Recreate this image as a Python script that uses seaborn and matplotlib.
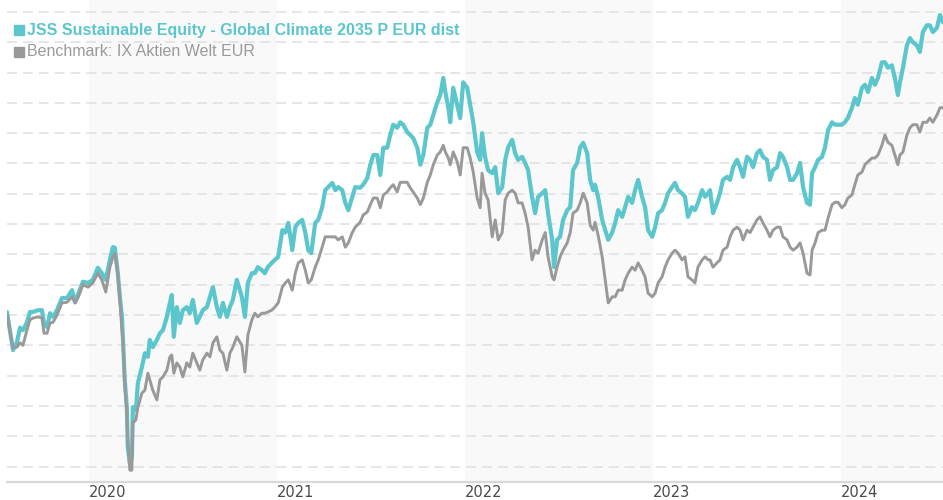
import pandas as pd
import numpy as np
import matplotlib
matplotlib.use("Agg")
import matplotlib.pyplot as plt
from matplotlib.lines import Line2D
import seaborn as sns

# time in decimal years
t_years = [
    2019.564, 2019.596, 2019.617, 2019.633, 2019.649, 2019.670, 2019.686, 2019.702, 2019.729, 2019.750,
    2019.761, 2019.777, 2019.793, 2019.809, 2019.830, 2019.856, 2019.883, 2019.910, 2019.926, 2019.941,
    2019.968, 2019.995, 2020.021, 2020.048, 2020.069, 2020.090, 2020.112, 2020.128, 2020.138, 2020.154,
    2020.165, 2020.176, 2020.181, 2020.191, 2020.202, 2020.207, 2020.218, 2020.229, 2020.234, 2020.250,
    2020.261, 2020.282, 2020.298, 2020.314, 2020.324, 2020.340, 2020.362, 2020.378, 2020.394, 2020.415,
    2020.431, 2020.441, 2020.452, 2020.468, 2020.484, 2020.500, 2020.521, 2020.537, 2020.553, 2020.574,
    2020.590, 2020.606, 2020.628, 2020.644, 2020.660, 2020.681, 2020.697, 2020.713, 2020.734, 2020.750,
    2020.766, 2020.787, 2020.814, 2020.830, 2020.846, 2020.867, 2020.883, 2020.899, 2020.920, 2020.936,
    2020.952, 2020.973, 2020.989, 2021.005, 2021.027, 2021.043, 2021.059, 2021.080, 2021.096, 2021.112,
    2021.133, 2021.149, 2021.165, 2021.181, 2021.202, 2021.218, 2021.239, 2021.255, 2021.271, 2021.293,
    2021.309, 2021.324, 2021.346, 2021.362, 2021.378, 2021.399, 2021.415, 2021.441, 2021.457, 2021.479,
    2021.495, 2021.511, 2021.532, 2021.548, 2021.564, 2021.585, 2021.601, 2021.617, 2021.638, 2021.654,
    2021.670, 2021.691, 2021.707, 2021.723, 2021.745, 2021.761, 2021.777, 2021.798, 2021.814, 2021.830,
    2021.851, 2021.867, 2021.883, 2021.894, 2021.910, 2021.920, 2021.936, 2021.957, 2021.973, 2021.989,
    2022.011, 2022.027, 2022.043, 2022.064, 2022.080, 2022.090, 2022.106, 2022.122, 2022.144, 2022.160,
    2022.176, 2022.197, 2022.213, 2022.229, 2022.250, 2022.266, 2022.282, 2022.303, 2022.319, 2022.335,
    2022.356, 2022.372, 2022.388, 2022.410, 2022.426, 2022.441, 2022.463, 2022.473, 2022.489, 2022.505,
    2022.521, 2022.543, 2022.559, 2022.574, 2022.596, 2022.612, 2022.628, 2022.649, 2022.665, 2022.681,
    2022.691, 2022.707, 2022.729, 2022.745, 2022.761, 2022.782, 2022.798, 2022.814, 2022.835, 2022.851,
    2022.867, 2022.888, 2022.904, 2022.920, 2022.941, 2022.957, 2022.973, 2022.995, 2023.011, 2023.027,
    2023.048, 2023.064, 2023.080, 2023.101, 2023.117, 2023.133, 2023.154, 2023.170, 2023.186, 2023.207,
    2023.223, 2023.239, 2023.261, 2023.277, 2023.293, 2023.303, 2023.319, 2023.340, 2023.356, 2023.372,
    2023.394, 2023.410, 2023.426, 2023.447, 2023.463, 2023.479, 2023.500, 2023.516, 2023.532, 2023.553,
    2023.569, 2023.585, 2023.606, 2023.622, 2023.638, 2023.660, 2023.676, 2023.691, 2023.713, 2023.729,
    2023.745, 2023.766, 2023.782, 2023.798, 2023.819, 2023.835, 2023.846, 2023.862, 2023.878, 2023.899,
    2023.915, 2023.931, 2023.952, 2023.968, 2023.984, 2024.005, 2024.021, 2024.037, 2024.059, 2024.074,
    2024.090, 2024.112, 2024.128, 2024.144, 2024.165, 2024.181, 2024.197, 2024.218, 2024.234, 2024.250,
    2024.271, 2024.287, 2024.303, 2024.314, 2024.330, 2024.351, 2024.367, 2024.383, 2024.404, 2024.420,
    2024.436, 2024.457, 2024.473, 2024.489, 2024.511, 2024.527, 2024.543,
]

fund = [
    100.5, 94.2, 95.5, 97.9, 97.5, 98.8, 100.5, 100.5, 100.8, 100.8,
    98.7, 98.0, 100.3, 99.7, 100.8, 102.8, 102.8, 104.1, 102.1, 103.3,
    105.5, 105.3, 105.8, 107.8, 106.9, 105.8, 109.1, 111.2, 111.1, 106.9,
    103.0, 99.7, 96.4, 89.3, 84.8, 78.2, 75.6, 76.6, 84.8, 84.3,
    88.8, 91.4, 93.7, 93.1, 95.9, 94.7, 95.9, 97.0, 97.5, 99.7,
    102.0, 103.3, 96.4, 101.3, 98.7, 100.8, 101.3, 100.3, 102.5, 98.7,
    99.7, 100.8, 101.3, 103.0, 104.6, 101.3, 99.7, 102.0, 99.7, 101.3,
    102.5, 105.8, 103.0, 99.7, 105.3, 106.9, 106.9, 107.9, 107.4, 106.9,
    107.9, 108.6, 109.1, 109.6, 114.0, 113.6, 115.2, 110.7, 114.5, 115.2,
    115.7, 113.6, 110.7, 110.2, 115.2, 115.7, 117.8, 120.6, 121.1, 121.8,
    120.6, 121.1, 120.6, 118.5, 117.3, 119.5, 121.1, 121.0, 121.5, 122.6,
    124.8, 126.4, 126.4, 123.1, 127.6, 127.6, 129.7, 131.4, 130.9, 131.8,
    131.4, 130.2, 129.7, 129.2, 127.6, 124.8, 126.4, 130.9, 131.4, 133.0,
    135.1, 136.3, 139.1, 136.8, 134.2, 131.8, 137.5, 134.7, 132.5, 138.4,
    137.5, 134.7, 131.8, 126.9, 125.6, 130.0, 126.1, 123.9, 123.4, 124.4,
    120.1, 121.1, 125.6, 127.7, 128.9, 126.7, 125.6, 126.1, 125.1, 123.9,
    119.5, 116.8, 119.5, 120.1, 120.6, 116.8, 112.4, 107.9, 112.4, 112.9,
    115.7, 117.3, 117.8, 123.9, 125.1, 127.7, 128.4, 126.7, 122.3, 120.6,
    121.5, 119.5, 115.7, 114.0, 112.4, 113.6, 115.2, 117.3, 116.2, 117.8,
    119.5, 118.5, 120.6, 122.3, 119.5, 117.8, 114.0, 112.9, 114.5, 116.8,
    117.3, 118.5, 120.1, 121.1, 121.8, 120.6, 120.1, 119.5, 116.2, 117.8,
    117.3, 118.5, 120.6, 119.5, 120.1, 120.6, 116.8, 118.5, 120.1, 122.3,
    122.8, 122.3, 124.4, 125.6, 124.4, 122.8, 126.1, 125.6, 124.4, 126.7,
    127.2, 126.1, 125.6, 122.3, 123.9, 124.4, 126.7, 126.1, 124.4, 122.3,
    122.3, 123.4, 125.1, 121.1, 118.5, 118.2, 123.4, 124.4, 125.6, 126.1,
    127.7, 130.5, 131.8, 131.4, 131.4, 131.4, 131.8, 132.5, 134.2, 135.8,
    134.7, 137.5, 138.0, 136.8, 139.1, 138.0, 139.1, 141.7, 141.7, 140.8,
    141.2, 139.1, 136.3, 138.4, 140.8, 144.5, 145.7, 145.0, 144.5, 143.4,
    146.7, 147.8, 147.8, 146.7, 147.4, 149.5, 148.3,
]

benchmark = [
    100.0, 94.6, 94.7, 95.4, 95.0, 97.5, 99.2, 99.5, 99.7, 99.5,
    97.0, 97.0, 98.7, 98.8, 100.0, 102.0, 102.1, 103.0, 102.0, 102.8,
    105.0, 104.6, 105.3, 106.9, 105.8, 103.8, 107.9, 109.6, 110.2, 106.9,
    102.5, 97.5, 95.9, 88.5, 84.0, 79.4, 74.4, 74.4, 82.2, 82.7,
    84.8, 87.1, 87.6, 90.4, 89.3, 87.6, 86.0, 89.3, 89.8, 90.9,
    93.1, 93.4, 90.4, 92.1, 91.4, 89.8, 92.1, 91.4, 93.7, 92.1,
    90.9, 92.6, 93.7, 93.1, 95.4, 96.4, 94.2, 93.7, 90.9, 93.7,
    94.7, 96.4, 95.0, 90.6, 96.7, 99.2, 100.3, 99.7, 100.3, 100.3,
    100.5, 100.8, 101.3, 102.0, 104.6, 105.3, 105.8, 104.1, 106.9, 108.6,
    109.1, 107.4, 105.3, 105.8, 107.9, 109.1, 111.2, 112.9, 112.9, 112.9,
    112.9, 112.4, 112.9, 111.2, 111.9, 113.6, 114.5, 115.3, 116.5, 117.0,
    118.2, 119.3, 119.3, 117.7, 119.8, 120.3, 121.0, 121.5, 120.3, 121.9,
    121.9, 121.9, 121.0, 120.3, 119.3, 118.2, 119.3, 121.9, 123.1, 124.8,
    126.4, 126.9, 128.0, 126.9, 125.9, 124.8, 126.9, 125.3, 123.1, 127.6,
    127.6, 125.9, 123.6, 119.3, 117.7, 123.4, 120.1, 119.0, 112.9, 115.7,
    112.4, 113.6, 119.0, 120.1, 120.6, 120.1, 118.5, 118.5, 116.8, 114.5,
    109.1, 110.7, 110.2, 112.4, 113.6, 109.6, 106.3, 105.8, 107.9, 109.6,
    110.7, 111.9, 113.6, 116.8, 117.3, 118.5, 120.1, 118.5, 114.8, 114.0,
    115.3, 113.2, 109.6, 105.8, 102.0, 103.0, 103.0, 104.1, 104.1, 105.8,
    106.9, 107.9, 107.4, 108.6, 107.4, 106.3, 103.6, 103.0, 103.6, 105.3,
    106.3, 107.9, 109.1, 110.2, 110.7, 110.2, 109.1, 109.6, 106.3, 105.8,
    105.3, 107.9, 109.1, 109.6, 109.1, 109.1, 107.9, 108.6, 109.1, 110.7,
    111.2, 112.9, 114.0, 114.5, 114.0, 112.4, 114.0, 113.6, 114.5, 115.7,
    116.2, 115.2, 114.0, 112.9, 114.0, 114.5, 114.5, 112.9, 112.4, 111.2,
    110.7, 111.2, 111.9, 110.2, 106.9, 106.6, 110.7, 111.9, 113.6, 114.0,
    114.0, 116.0, 118.2, 118.6, 118.6, 117.7, 118.2, 119.3, 119.8, 121.5,
    123.1, 123.6, 124.8, 125.3, 125.9, 125.9, 126.4, 128.0, 129.7, 128.5,
    128.0, 126.4, 124.8, 126.4, 126.9, 129.7, 130.9, 131.4, 131.4, 130.2,
    131.8, 131.8, 132.5, 131.8, 133.0, 134.2, 134.2,
]

series_labels = ["JSS Sustainable Equity - Global Climate 2035 P EUR dist",
                 "Benchmark: IX Aktien Welt EUR"]
year_ticks = [2020, 2021, 2022, 2023, 2024]


def to_date(y):
    yi = int(np.floor(y))
    return pd.Timestamp(f"{yi}-01-01") + pd.Timedelta(days=(y - yi) * 365.25)


dates = [to_date(y) for y in t_years]
df = pd.DataFrame({"date": dates, "fund": fund, "bench": benchmark})

sns.set_theme(style="white")
plt.rcParams["font.family"] = ["Liberation Sans", "DejaVu Sans"]

W, H = 943, 500
fig = plt.figure(figsize=(W / 100, H / 100), dpi=100)
ax = fig.add_axes([7 / W, 18 / H, 936 / W, 482 / H])

TEAL = "#5cc6cd"
GREY = "#999999"

x0, x1 = df["date"].iloc[0], df["date"].iloc[-1]

# alternating year bands
for yr in [2020, 2022, 2024]:
    a = pd.Timestamp(f"{yr}-01-01")
    b = min(pd.Timestamp(f"{yr + 1}-01-01"), x1 + pd.Timedelta(days=30))
    ax.axvspan(a, b, color="#f9f9f9", zorder=0, lw=0)

# dashed gridlines
for v in range(75, 151, 5):
    ax.axhline(v, color="#e2e2e2", lw=1.2, ls=(0, (6, 3.5)), zorder=1)

sns.lineplot(data=df, x="date", y="fund", color=TEAL, lw=3.0, ax=ax, zorder=3)
sns.lineplot(data=df, x="date", y="bench", color=GREY, lw=2.1, ax=ax, zorder=4)

ax.set_xlim(x0, x1)
ax.set_ylim(72.45, 151.975)
ax.set_xlabel("")
ax.set_ylabel("")
ax.set_yticks([])
ax.set_xticks([pd.Timestamp(f"{y}-01-01") for y in year_ticks])
ax.set_xticklabels([str(y) for y in year_ticks], ha="left",
                   fontsize=10.5, color="#4a4a4a",
                   family=["Liberation Sans Narrow", "DejaVu Sans Condensed", "DejaVu Sans"])
ax.tick_params(axis="x", length=0, pad=2)
for s in ["top", "left", "right"]:
    ax.spines[s].set_visible(False)
ax.spines["bottom"].set_color("#d9d9d9")
ax.spines["bottom"].set_linewidth(1.6)
ax.set_facecolor("white")
ax.grid(False)

# legend (manual)
def fx(px):
    return px / W

def fy(py):
    return 1 - py / H

fig.add_artist(Line2D([fx(19)], [fy(30)], marker="s", markersize=6.5, color=TEAL,
                      linestyle="none", transform=fig.transFigure))
fig.add_artist(Line2D([fx(19)], [fy(52)], marker="s", markersize=6.5, color=GREY,
                      linestyle="none", transform=fig.transFigure))
fig.text(fx(27), fy(30), series_labels[0], color=TEAL, fontsize=11.5,
         fontweight="bold", va="center", ha="left")
fig.text(fx(27), fy(52), series_labels[1], color="#9a9a9a", fontsize=11.5,
         va="center", ha="left")

fig.savefig("out.png", dpi=100)
